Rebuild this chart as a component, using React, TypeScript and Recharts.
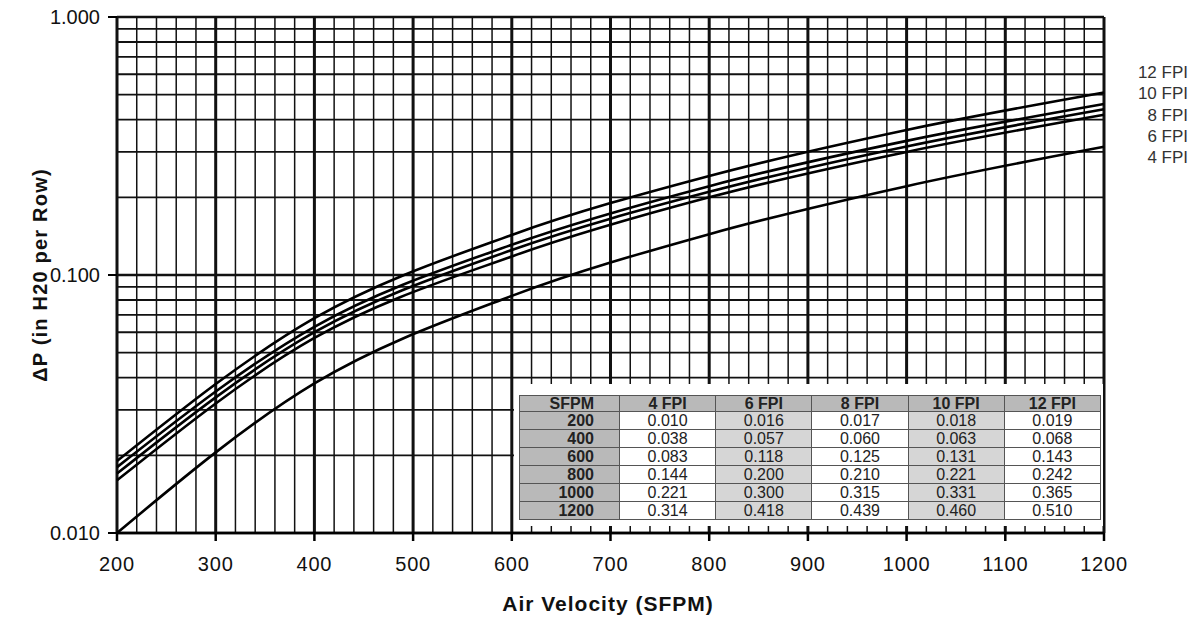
import React from "react";
import { LineChart, Line, XAxis, YAxis, ReferenceLine } from "recharts";

// table / curve values (in. H2O per row)
const sfpm = [200, 400, 600, 800, 1000, 1200];
const fpi4 = [0.01, 0.038, 0.083, 0.144, 0.221, 0.314];
const fpi6 = [0.016, 0.057, 0.118, 0.2, 0.3, 0.418];
const fpi8 = [0.017, 0.06, 0.125, 0.21, 0.315, 0.439];
const fpi10 = [0.018, 0.063, 0.131, 0.221, 0.331, 0.46];
const fpi12 = [0.019, 0.068, 0.143, 0.242, 0.365, 0.51];

const seriesKeys = ["fpi4", "fpi6", "fpi8", "fpi10", "fpi12"];
const seriesLabels = ["4 FPI", "6 FPI", "8 FPI", "10 FPI", "12 FPI"];
const legendOrder = ["12 FPI", "10 FPI", "8 FPI", "6 FPI", "4 FPI"];

const yLabelTicks = [0.01, 0.1, 1];

// graph paper lines
const xGrid = Array.from({ length: 51 }, (_, i) => 200 + i * 20);
const yGrid = [
  0.01, 0.02, 0.03, 0.04, 0.05, 0.06, 0.07, 0.08, 0.09,
  0.1, 0.2, 0.3, 0.4, 0.5, 0.6, 0.7, 0.8, 0.9, 1
];

const rows = sfpm.map((s, i) => ({
  sfpm: s,
  fpi4: fpi4[i],
  fpi6: fpi6[i],
  fpi8: fpi8[i],
  fpi10: fpi10[i],
  fpi12: fpi12[i]
}));

const tableCols = [fpi4, fpi6, fpi8, fpi10, fpi12];

const FONT = '"Liberation Sans", Arial, sans-serif';

function XTick(props: any) {
  const { x, y, payload } = props;
  const v = payload.value as number;
  if (v % 100 !== 0) return <g />;
  return (
    <g>
      <line x1={x} x2={x} y1={y} y2={y + 8} stroke="#000" strokeWidth={2.5} />
      <text
        x={x}
        y={y + 38}
        textAnchor="middle"
        fontSize={20}
        letterSpacing={0.8}
        fill="#111"
        fontFamily={FONT}
      >
        {v}
      </text>
    </g>
  );
}

function GridTable() {
  const cell: React.CSSProperties = {
    border: "1px solid #555",
    padding: 0,
    height: 17,
    lineHeight: "17px",
    textAlign: "center"
  };
  const shade = ["#ffffff", "#d6d6d6", "#ffffff", "#d6d6d6", "#ffffff"];
  return (
    <div
      style={{
        position: "absolute",
        left: 514,
        top: 384,
        width: 589,
        height: 142,
        background: "#fff"
      }}
    >
      <table
        style={{
          position: "absolute",
          left: 5,
          top: 11,
          width: 582,
          borderCollapse: "collapse",
          fontFamily: FONT,
          fontSize: 16,
          color: "#222",
          tableLayout: "fixed"
        }}
      >
        <thead>
          <tr style={{ background: "#b9b9b9", fontWeight: "bold" }}>
            <th style={{ ...cell, height: 15, lineHeight: "15px", textAlign: "right", paddingRight: 25, width: 74 }}>SFPM</th>
            {seriesLabels.map((l) => (
              <th key={l} style={{ ...cell, height: 15, lineHeight: "15px" }}>{l}</th>
            ))}
          </tr>
        </thead>
        <tbody>
          {sfpm.map((s, i) => (
            <tr key={s}>
              <td style={{ ...cell, background: "#b9b9b9", fontWeight: "bold", textAlign: "right", paddingRight: 25 }}>{s}</td>
              {tableCols.map((col, j) => (
                <td key={j} style={{ ...cell, background: shade[j] }}>
                  {col[i].toFixed(3)}
                </td>
              ))}
            </tr>
          ))}
        </tbody>
      </table>
    </div>
  );
}

export default function App() {
  return (
    <div
      style={{
        position: "absolute",
        left: 0,
        top: 0,
        width: 1199,
        height: 618,
        background: "#fff",
        fontFamily: FONT
      }}
    >
      <LineChart width={1199} height={618} data={rows} margin={{ top: 17, right: 95, bottom: 0, left: 0 }}>
        <XAxis
          dataKey="sfpm"
          type="number"
          domain={[200, 1200]}
          ticks={xGrid}
          interval={0}
          tick={<XTick />}
          tickLine={false}
          tickSize={0}
          tickMargin={0}
          height={85}
          axisLine={{ stroke: "#000", strokeWidth: 2.5 }}
        />
        <YAxis
          type="number"
          scale="log"
          domain={[0.01, 1]}
          allowDataOverflow
          ticks={yLabelTicks}
          interval={0}
          width={117}
          tickSize={9}
          tickMargin={8}
          tickLine={{ stroke: "#000", strokeWidth: 2 }}
          axisLine={false}
          tick={{ fill: "#111", fontSize: 20, fontFamily: FONT }}
          tickFormatter={(v: number) => v.toFixed(3)}
        />
        {xGrid.map((v) => (
          <ReferenceLine
            key={"x" + v}
            x={v}
            stroke="#111"
            strokeWidth={v % 100 === 0 ? 3 : 1.5}
          />
        ))}
        {yGrid.map((v) => (
          <ReferenceLine
            key={"y" + v}
            y={v}
            stroke="#111"
            strokeWidth={v === 0.01 || v === 0.1 || v === 1 ? 2.6 : 1.8}
          />
        ))}
        {seriesKeys.map((k, i) => (
          <Line
            key={k}
            dataKey={k}
            name={seriesLabels[i]}
            type="monotone"
            stroke="#000"
            strokeWidth={2.6}
            dot={false}
            isAnimationActive={false}
          />
        ))}
      </LineChart>

      <GridTable />

      <div
        style={{
          position: "absolute",
          left: 1110,
          top: 62,
          width: 78,
          textAlign: "right",
          fontSize: 17,
          lineHeight: "21.3px",
          color: "#333"
        }}
      >
        {legendOrder.map((l) => (
          <div key={l}>{l}</div>
        ))}
      </div>

      <div
        style={{
          position: "absolute",
          left: 40,
          top: 275,
          transform: "translate(-50%, -50%) rotate(-90deg)",
          whiteSpace: "nowrap",
          fontWeight: "bold",
          fontSize: 20,
          letterSpacing: 1.2,
          color: "#111"
        }}
      >
        ΔP (in H20 per Row)
      </div>

      <div
        style={{
          position: "absolute",
          left: 608,
          top: 604,
          transform: "translate(-50%, -50%)",
          whiteSpace: "nowrap",
          fontWeight: "bold",
          fontSize: 21,
          letterSpacing: 1,
          color: "#111"
        }}
      >
        Air Velocity (SFPM)
      </div>
    </div>
  );
}
